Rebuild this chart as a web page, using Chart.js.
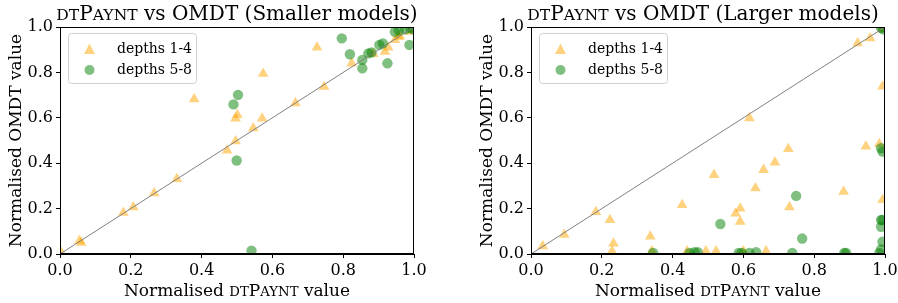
<!DOCTYPE html>
<html>
<head>
<meta charset="utf-8">
<script src="https://cdn.jsdelivr.net/npm/chart.js@4/dist/chart.umd.min.js"></script>
<style>
  html, body { margin: 0; padding: 0; background: #fff; overflow: hidden; }
  #wrap { position: relative; width: 898px; height: 303px; overflow: hidden; }
  canvas { display: block; position: absolute; top: 0; }
  #smallChart { left: 0; }
  #largeChart { left: 471px; }
</style>
</head>
<body>
<div id="wrap">
  <canvas id="smallChart" width="449" height="303"></canvas>
  <canvas id="largeChart" width="449" height="303"></canvas>
</div>
<script>
// series names
const seriesLabels = ['depths 1-4', 'depths 5-8'];
// tick labels on both axes
const tickValues = [0, 0.2, 0.4, 0.6, 0.8, 1.0];

// smaller models, depths 1-4 (normalised dtPaynt x, normalised OMDT y)
const smallShallowX = [0.003, 0.055, 0.06, 0.179, 0.207, 0.266, 0.33, 0.379, 0.472, 0.496, 0.496, 0.501, 0.546, 0.571, 0.574, 0.665, 0.726, 0.746, 0.824, 0.885, 0.918, 0.927, 0.946, 0.956, 0.96, 0.989];
const smallShallowY = [0.007, 0.059, 0.05, 0.182, 0.206, 0.268, 0.331, 0.682, 0.456, 0.497, 0.597, 0.613, 0.554, 0.597, 0.794, 0.665, 0.91, 0.737, 0.84, 0.882, 0.891, 0.91, 0.943, 0.957, 0.96, 0.98];
// smaller models, depths 5-8
const smallDeepX = [0.49, 0.503, 0.499, 0.541, 0.796, 0.819, 0.854, 0.854, 0.871, 0.88, 0.902, 0.912, 0.925, 0.987, 0.946, 0.957, 0.975, 0.989, 0.998];
const smallDeepY = [0.659, 0.701, 0.412, 0.015, 0.95, 0.88, 0.855, 0.818, 0.884, 0.888, 0.921, 0.928, 0.84, 0.921, 0.979, 0.985, 0.99, 0.995, 0.99];

// larger models, depths 1-4
const largeShallowX = [0.033, 0.094, 0.183, 0.223, 0.233, 0.229, 0.337, 0.341, 0.427, 0.441, 0.494, 0.517, 0.523, 0.578, 0.591, 0.591, 0.6, 0.617, 0.634, 0.657, 0.664, 0.689, 0.727, 0.73, 0.883, 0.923, 0.946, 0.958, 0.984, 0.993, 0.993, 0.993];
const largeShallowY = [0.035, 0.085, 0.185, 0.15, 0.047, 0.012, 0.077, 0.012, 0.216, 0.012, 0.012, 0.349, 0.012, 0.179, 0.201, 0.143, 0.012, 0.599, 0.29, 0.371, 0.012, 0.404, 0.463, 0.206, 0.275, 0.929, 0.474, 0.951, 0.485, 0.738, 0.238, 0.99];
// larger models, depths 5-8
const largeDeepX = [0.345, 0.448, 0.462, 0.471, 0.535, 0.587, 0.595, 0.617, 0.636, 0.738, 0.749, 0.766, 0.885, 0.89, 0.984, 0.989, 0.993, 0.989, 0.989, 0.993, 0.989, 0.993, 0.989, 0.995];
const largeDeepY = [0.005, 0.005, 0.008, 0.008, 0.132, 0.005, 0.005, 0.005, 0.008, 0.005, 0.256, 0.068, 0.005, 0.005, 0.005, 0.02, 0.054, 0.12, 0.15, 0.15, 0.466, 0.451, 0.996, 0.99];

const FONT = 'DejaVu Serif';
const orangeFill = 'rgba(255,165,0,0.5)';
const greenFill = 'rgba(0,128,0,0.5)';

function zip(xs, ys) {
    return xs.map((x, i) => ({ x: x, y: ys[i] }));
}

// draws text with small caps pieces, centred at cx
function drawRich(ctx, parts, size, cx, y) {
    ctx.save();
    let total = 0;
    parts.forEach(p => {
        ctx.font = (p.sc ? size * 0.78 : size) + 'px "' + FONT + '"';
        p.w = ctx.measureText(p.t).width;
        total += p.w;
    });
    let x = cx - total / 2;
    ctx.fillStyle = '#000';
    ctx.textBaseline = 'alphabetic';
    ctx.textAlign = 'left';
    parts.forEach(p => {
        ctx.font = (p.sc ? size * 0.78 : size) + 'px "' + FONT + '"';
        ctx.fillText(p.t, x, y);
        x += p.w;
    });
    ctx.restore();
}

// title, x label, frame and legend
const decorPlugin = {
    id: 'decor',
    afterDraw(chart, args, opts) {
        const ctx = chart.ctx;
        const a = chart.chartArea;
        const cx = (a.left + a.right) / 2;
        drawRich(ctx, [{ t: 'DT', sc: true }, { t: 'P' }, { t: 'AYNT', sc: true }, { t: ' vs OMDT (' + opts.title + ')' }], 20, cx + opts.shift, 20);
        drawRich(ctx, [{ t: 'Normalised ' }, { t: 'DT', sc: true }, { t: 'P' }, { t: 'AYNT', sc: true }, { t: ' value' }], 17, cx, 296);

        // frame
        ctx.save();
        ctx.strokeStyle = '#000';
        ctx.lineWidth = 1;
        ctx.strokeRect(a.left + 0.5, a.top + 0.5, a.right - a.left - 1, a.bottom - a.top - 1);
        ctx.restore();

        // legend
        const lx = a.left + 8, ly = a.top + 6, lw = 128, lh = 50;
        ctx.save();
        ctx.fillStyle = 'rgba(255,255,255,0.8)';
        ctx.strokeStyle = '#d0d0d0';
        ctx.lineWidth = 1;
        ctx.beginPath();
        ctx.roundRect(lx + 0.5, ly + 0.5, lw, lh, 3);
        ctx.fill();
        ctx.stroke();
        ctx.fillStyle = orangeFill;
        ctx.beginPath();
        const tx = a.left + 29.5, ty = ly + 16;
        ctx.moveTo(tx, ty - 5.5);
        ctx.lineTo(tx + 5.5, ty + 5);
        ctx.lineTo(tx - 5.5, ty + 5);
        ctx.closePath();
        ctx.fill();
        ctx.fillStyle = greenFill;
        ctx.beginPath();
        ctx.arc(tx, ly + 37, 5, 0, Math.PI * 2);
        ctx.fill();
        ctx.fillStyle = '#000';
        ctx.font = '14px "' + FONT + '"';
        ctx.textBaseline = 'middle';
        ctx.fillText(seriesLabels[0], a.left + 57, ly + 16);
        ctx.fillText(seriesLabels[1], a.left + 57, ly + 37);
        ctx.restore();
    }
};

function axis(extra) {
    return Object.assign({
        type: 'linear',
        min: 0,
        max: 1,
        afterBuildTicks: s => { s.ticks = tickValues.map(v => ({ value: v })); },
        grid: { drawOnChartArea: false, drawTicks: true, tickLength: 4, color: '#000' },
        border: { display: true, color: '#000' },
        ticks: {
            color: '#000',
            font: { family: FONT, size: 16 },
            padding: 3,
            autoSkip: false,
            maxRotation: 0,
            callback: v => Number(v).toFixed(1)
        }
    }, extra);
}

function makeChart(id, title, shallowX, shallowY, deepX, deepY, shift) {
    return new Chart(document.getElementById(id).getContext('2d'), {
        type: 'scatter',
        data: {
            datasets: [
                {
                    type: 'line',
                    data: [{ x: 0, y: 0 }, { x: 1, y: 1 }],
                    borderColor: '#808080',
                    borderWidth: 1,
                    pointRadius: 0,
                    order: 0
                },
                {
                    label: seriesLabels[1],
                    data: zip(deepX, deepY),
                    pointStyle: 'circle',
                    pointRadius: 5.2,
                    borderWidth: 0,
                    backgroundColor: greenFill,
                    clip: 0,
                    order: 1
                },
                {
                    label: seriesLabels[0],
                    data: zip(shallowX, shallowY),
                    pointStyle: 'triangle',
                    pointRadius: 6.2,
                    borderWidth: 0,
                    backgroundColor: orangeFill,
                    clip: 0,
                    order: 2
                }
            ]
        },
        options: {
            responsive: false,
            animation: false,
            layout: { padding: { top: 27, left: 0, right: 35, bottom: 0 } },
            plugins: {
                legend: { display: false },
                tooltip: { enabled: false },
                decor: { title: title, shift: shift }
            },
            scales: {
                x: axis({
                    position: 'bottom',
                    afterFit: s => { s.height = 49; }
                }),
                y: axis({
                    position: 'left',
                    title: { display: true, text: 'Normalised OMDT value', color: '#000', font: { family: FONT, size: 17 }, padding: 6 },
                    afterFit: s => { s.width = 60; }
                })
            }
        },
        plugins: [decorPlugin]
    });
}

makeChart('smallChart', 'Smaller models', smallShallowX, smallShallowY, smallDeepX, smallDeepY, 0);
makeChart('largeChart', 'Larger models', largeShallowX, largeShallowY, largeDeepX, largeDeepY, -5);
</script>
</body>
</html>
